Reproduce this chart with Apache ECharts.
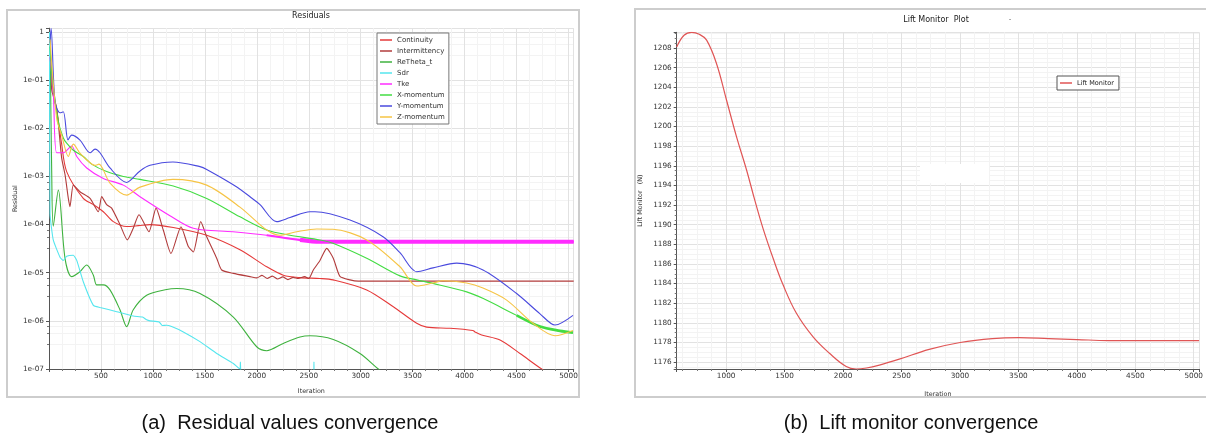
<!DOCTYPE html>
<html><head><meta charset="utf-8">
<script src="https://cdn.jsdelivr.net/npm/echarts@6/dist/echarts.min.js"></script>
<style>html,body{margin:0;padding:0;background:#fff}#c{width:1206px;height:436px}</style>
</head><body><div id="c"></div>
<script>
// ---------------- DATA ----------------
const residualNames = ['Continuity','Intermittency','ReTheta_t','Sdr','Tke','X-momentum','Y-momentum','Z-momentum'];

const itContinuity = [10, 40, 80, 120, 170, 330, 427, 523, 619, 748, 860, 972, 1196, 1518, 1838, 2095, 2255, 2416, 2608, 2736, 3058, 3314, 3539, 3635, 3859, 4080, 4100, 4164, 4341, 4533, 4742, 4918, 5050];
const valContinuity = [0.35, 0.06, 0.02, 5e-3, 1.26e-3, 3.5e-4, 2.6e-4, 1.85e-4, 1.15e-4, 9.1e-5, 9.5e-5, 1.0e-4, 8.7e-5, 6.0e-5, 3.0e-5, 1.33e-5, 8.9e-6, 7.9e-6, 7.6e-6, 7.1e-6, 4.4e-6, 1.96e-6, 8.9e-7, 7.4e-7, 7.0e-7, 6.3e-7, 5.9e-7, 5.1e-7, 4.0e-7, 2.1e-7, 1.0e-7, 5.9e-8, 4e-8];

const itIntermittency = [10, 26, 74, 122, 154, 186, 202, 234, 298, 395, 475, 507, 555, 603, 683, 754, 811, 866, 962, 1030, 1100, 1174, 1270, 1341, 1389, 1460, 1518, 1614, 1662, 1774, 1935, 2000, 2050, 2100, 2150, 2200, 2250, 2300, 2350, 2400, 2460, 2500, 2544, 2608, 2673, 2736, 2800, 2897, 2977, 5050];
const valIntermittency = [0.6, 0.063, 0.026, 2.4e-3, 1.1e-3, 3.5e-4, 2.35e-4, 6.6e-4, 4.8e-4, 3.5e-4, 1.85e-4, 3.8e-4, 2.6e-4, 2.2e-4, 1.0e-4, 4.8e-5, 8.4e-5, 1.6e-4, 7.1e-5, 2.2e-4, 7.7e-5, 2.5e-5, 9.0e-5, 3.5e-5, 2.7e-5, 1.15e-4, 5.6e-5, 2.0e-5, 1.14e-5, 9.7e-6, 8.3e-6, 7.8e-6, 8.8e-6, 7.6e-6, 8.5e-6, 7.4e-6, 8.2e-6, 7.2e-6, 8.0e-6, 7.6e-6, 8.3e-6, 7.6e-6, 1.14e-5, 1.8e-5, 3.2e-5, 2.0e-5, 8.4e-6, 7.1e-6, 6.7e-6, 6.7e-6];

const itReTheta = [10, 26, 41, 90, 154, 218, 298, 363, 427, 459, 523, 587, 683, 748, 811, 940, 1133, 1229, 1453, 1774, 1999, 2095, 2255, 2416, 2512, 2736, 2993, 3169, 3300];
const valReTheta = [0.8, 1.26e-3, 9.3e-5, 5.2e-4, 2.0e-5, 8.3e-6, 1.05e-5, 1.45e-5, 8.9e-6, 5.6e-6, 5.6e-6, 4.4e-6, 1.7e-6, 7.6e-7, 1.7e-6, 3.4e-6, 4.5e-6, 4.7e-6, 3.7e-6, 1.2e-6, 2.9e-7, 2.4e-7, 3.4e-7, 4.6e-7, 4.9e-7, 4.1e-7, 2.1e-7, 1.0e-7, 6e-8];

const itSdr = [5, 10, 41, 106, 138, 170, 234, 267, 330, 427, 491, 652, 811, 900, 940, 972, 1060, 1090, 1133, 1180, 1293, 1453, 1614, 1774, 1838, 1842, 1848, 1900, 2545, 2550, 2555, 2700];
const valSdr = [1.0, 1.7e-4, 4.8e-5, 2.1e-5, 1.8e-5, 2.2e-5, 2.3e-5, 1.8e-5, 6.5e-6, 2.1e-6, 1.9e-6, 1.55e-6, 1.26e-6, 1.2e-6, 1.05e-6, 1.0e-6, 9.5e-7, 8.0e-7, 8.1e-7, 7.6e-7, 5.9e-7, 3.7e-7, 2.1e-7, 1.3e-7, 1.0e-7, 1.4e-7, 9e-8, 8e-8, 5e-8, 1.4e-7, 5e-8, 4e-8];

const itTke = [10, 41, 74, 138, 218, 267, 363, 523, 715, 876, 1160, 1389, 1771, 2095, 2416, 2608, 3000, 3500, 4000, 4500, 5050];
const valTke = [0.3, 0.057, 3.1e-3, 3.1e-3, 4.3e-3, 2.6e-3, 1.5e-3, 9.1e-4, 6.6e-4, 3.8e-4, 1.55e-4, 8.4e-5, 7.1e-5, 6.0e-5, 4.8e-5, 4.4e-5, 4.4e-5, 4.4e-5, 4.4e-5, 4.4e-5, 4.4e-5];

const itXmom = [10, 30, 90, 138, 170, 234, 330, 410, 555, 715, 876, 1196, 1518, 1838, 2095, 2320, 2608, 2733, 3058, 3378, 3539, 3696, 4020, 4180, 4501, 4726, 4918, 5043];
const valXmom = [0.5, 0.12, 0.0137, 6.3e-3, 4.9e-3, 3.5e-3, 2.6e-3, 1.8e-3, 1.26e-3, 1.0e-3, 8.7e-4, 6.3e-4, 3.5e-4, 1.45e-4, 7.7e-5, 6.0e-5, 4.8e-5, 4.1e-5, 2.0e-5, 8.6e-6, 7.1e-6, 6.0e-6, 4.0e-6, 2.9e-6, 1.3e-6, 7.6e-7, 6.2e-7, 5.7e-7];

const itYmom = [10, 20, 58, 106, 138, 183, 218, 298, 395, 443, 491, 587, 746, 876, 972, 1193, 1453, 1518, 1800, 1963, 2031, 2191, 2320, 2512, 2560, 2897, 3215, 3378, 3539, 3696, 3924, 4177, 4501, 4726, 4870, 5043];
const valYmom = [0.6, 1.2, 0.035, 0.021, 0.022, 5.7e-3, 7.2e-3, 5.7e-3, 3.1e-3, 3.7e-3, 3.1e-3, 1.5e-3, 7.5e-4, 1.3e-3, 1.7e-3, 2.0e-3, 1.6e-3, 1.4e-3, 6.2e-4, 3.4e-4, 2.6e-4, 1.15e-4, 1.4e-4, 1.85e-4, 1.85e-4, 1.24e-4, 5.6e-5, 2.6e-5, 1.05e-5, 1.26e-5, 1.58e-5, 1.14e-5, 3.7e-6, 1.4e-6, 8.2e-7, 1.3e-6];

const itZmom = [10, 74, 122, 186, 234, 300, 363, 443, 480, 587, 748, 876, 1193, 1518, 1838, 2095, 2223, 2384, 2577, 2733, 3058, 3378, 3539, 3696, 3792, 4020, 4177, 4405, 4658, 4870, 5043];
const valZmom = [0.7, 0.016, 7.2e-3, 2.6e-3, 4.7e-3, 3.0e-3, 2.2e-3, 1.7e-3, 1.8e-3, 7.3e-4, 4.1e-4, 6.0e-4, 8.7e-4, 6.6e-4, 2.3e-4, 7.7e-5, 6.0e-5, 7.1e-5, 8.1e-5, 8.0e-5, 4.8e-5, 1.33e-5, 5.3e-6, 6.1e-6, 6.8e-6, 6.1e-6, 4.8e-6, 2.7e-6, 8.9e-7, 4.9e-7, 6.3e-7];

const itLift = [577, 640, 705, 770, 833, 918, 1003, 1089, 1174, 1245, 1316, 1401, 1486, 1600, 1742, 1884, 2027, 2112, 2200, 2311, 2481, 2737, 3002, 3277, 3505, 3761, 4002, 4272, 4556, 5046];
const valLift = [1208.1, 1209.3, 1209.6, 1209.4, 1208.8, 1206.4, 1202.7, 1198.95, 1195.6, 1192.5, 1189.6, 1186.6, 1183.9, 1181.0, 1178.6, 1176.9, 1175.55, 1175.3, 1175.4, 1175.7, 1176.3, 1177.3, 1178.0, 1178.4, 1178.5, 1178.4, 1178.3, 1178.2, 1178.2, 1178.2];

const residualTickDecades = [1, 1e-1, 1e-2, 1e-3, 1e-4, 1e-5, 1e-6, 1e-7];

// ---------------- CHART ----------------
const FONT = 'DejaVu Sans';
function pairs(xs, ys) { return xs.map((x, i) => [x, ys[i]]); }
function tailPairs(xs, ys, from) { const o = []; xs.forEach((x, i) => { if (x >= from) o.push([x, ys[i]]); }); return o; }

function logLabel(v) {
  for (const d of residualTickDecades) {
    if (Math.abs(v / d - 1) < 1e-6) {
      const e = Math.round(Math.log10(d));
      return e === 0 ? '1' : '1e-' + String(-e).padStart(2, '0');
    }
  }
  return '';
}

const colors = {
  'Continuity': '#e53a3a',
  'Intermittency': '#b23c3c',
  'ReTheta_t': '#3fb23f',
  'Sdr': '#55e6ee',
  'Tke': '#ff2cff',
  'X-momentum': '#43dc43',
  'Y-momentum': '#4a4ade',
  'Z-momentum': '#f6c445'
};

function lineSeries(name, xs, ys, extra) {
  return Object.assign({
    name: name, type: 'line', xAxisIndex: 0, yAxisIndex: 0,
    data: pairs(xs, ys), showSymbol: false, symbol: 'none', smooth: 0.3,
    color: colors[name], lineStyle: { width: 1.1, color: colors[name] },
    clip: true, z: 2
  }, extra || {});
}

const axisCommon = {
  axisLine: { show: true, lineStyle: { color: '#555', width: 1 } },
  axisTick: { show: true, length: 3, lineStyle: { color: '#555' } },
  minorTick: { show: true, splitNumber: 4, length: 2, lineStyle: { color: '#777' } },
  splitLine: { show: true, lineStyle: { color: '#e2e2e2', width: 1 } },
  minorSplitLine: { show: true, lineStyle: { color: '#f3f3f3', width: 1 } },
  nameTextStyle: { fontFamily: FONT, fontSize: 6.4, color: '#333' }
};
function ax(o) { return Object.assign({}, JSON.parse(JSON.stringify(axisCommon)), o); }

const option = {
  animation: false,
  backgroundColor: '#fff',
  textStyle: { fontFamily: FONT },
  grid: [
    { left: 49, top: 28.2, width: 524.7, height: 340.8 },
    { left: 676.7, top: 32.3, width: 524, height: 336.7 }
  ],
  xAxis: [
    ax({ gridIndex: 0, type: 'value', min: 0, max: 5050, interval: 500,
      name: 'Iteration', nameLocation: 'middle', nameGap: 19,
      axisLabel: { fontFamily: FONT, fontSize: 7.3, color: '#333', margin: 4,
        formatter: v => (v > 0 && v % 500 === 0) ? String(v) : '' } }),
    ax({ gridIndex: 1, type: 'value', min: 577, max: 5046, splitNumber: 9,
      name: 'Iteration', nameLocation: 'middle', nameGap: 22,
      axisLabel: { fontFamily: FONT, fontSize: 7.3, color: '#333', margin: 4,
        formatter: v => (v % 500 === 0) ? String(v) : '' } })
  ],
  yAxis: [
    ax({ gridIndex: 0, type: 'log', logBase: 10, min: 1e-7, max: 1.2,
      name: 'Residual', nameLocation: 'middle', nameGap: 31,
      axisLabel: { fontFamily: FONT, fontSize: 7.3, color: '#333', margin: 5, formatter: logLabel } }),
    ax({ gridIndex: 1, type: 'value', min: 1175.3, max: 1209.6, splitNumber: 17,
      name: 'Lift Monitor   (N)', nameLocation: 'middle', nameGap: 33,
      axisLabel: { fontFamily: FONT, fontSize: 7.3, color: '#333', margin: 5,
        formatter: v => { const r = Math.round(v); return (Math.abs(v - r) < 1e-6 && r % 2 === 0) ? String(r) : ''; } } })
  ],
  legend: [
    { data: residualNames, orient: 'vertical', left: 377, top: 33, icon: 'rect',
      itemWidth: 12, itemHeight: 1.5, itemGap: 3, padding: [3, 4, 3, 3],
      borderColor: '#777', borderWidth: 1, backgroundColor: '#fff', borderRadius: 0,
      textStyle: { fontFamily: FONT, fontSize: 7, color: '#333', lineHeight: 8 } },
    { data: ['Lift Monitor'], orient: 'vertical', left: 1057, top: 76, icon: 'rect',
      itemWidth: 12, itemHeight: 1.5, padding: [3, 5, 3, 3],
      borderColor: '#555', borderWidth: 1, backgroundColor: '#fff',
      textStyle: { fontFamily: FONT, fontSize: 6.5, color: '#222', lineHeight: 8 } }
  ],
  series: [
    lineSeries('Continuity', itContinuity, valContinuity),
    lineSeries('Intermittency', itIntermittency, valIntermittency, { smooth: 0.2 }),
    lineSeries('ReTheta_t', itReTheta, valReTheta),
    lineSeries('Sdr', itSdr, valSdr, { smooth: 0.15 }),
    lineSeries('Tke', itTke, valTke),
    lineSeries('Tke', itTke, valTke, { data: tailPairs(itTke, valTke, 2095), lineStyle: { width: 2.2, color: colors['Tke'] } }),
    lineSeries('Tke', itTke, valTke, { data: tailPairs(itTke, valTke, 2416), lineStyle: { width: 4.2, color: colors['Tke'] } }),
    lineSeries('X-momentum', itXmom, valXmom),
    lineSeries('X-momentum', itXmom, valXmom, { data: tailPairs(itXmom, valXmom, 4501), lineStyle: { width: 2.6, color: colors['X-momentum'] } }),
    lineSeries('Y-momentum', itYmom, valYmom),
    lineSeries('Z-momentum', itZmom, valZmom),
    { name: 'Lift Monitor', type: 'line', xAxisIndex: 1, yAxisIndex: 1, data: pairs(itLift, valLift),
      showSymbol: false, symbol: 'none', smooth: 0.4, color: '#e05555',
      lineStyle: { width: 1.2, color: '#e05555' }, clip: true, z: 2 }
  ],
  graphic: [
    { type: 'rect', shape: { x: 7, y: 10, width: 572, height: 387 }, style: { fill: 'none', stroke: '#cdcdcd', lineWidth: 2 }, z: 0, silent: true },
    { type: 'rect', shape: { x: 635, y: 9, width: 580, height: 388 }, style: { fill: 'none', stroke: '#cdcdcd', lineWidth: 2 }, z: 0, silent: true },
    { type: 'rect', shape: { x: 920, y: 164, width: 69, height: 19 }, style: { fill: '#fff' }, z: 1, silent: true },
    { type: 'text', style: { text: 'Residuals', x: 311, y: 16, align: 'center', verticalAlign: 'middle', textAlign: 'center', textVerticalAlign: 'middle', font: '8px "DejaVu Sans"', fill: '#222' } },
    { type: 'text', style: { text: 'Lift Monitor  Plot', x: 936, y: 20, align: 'center', verticalAlign: 'middle', textAlign: 'center', textVerticalAlign: 'middle', font: '8px "DejaVu Sans"', fill: '#222' } },
    { type: 'text', style: { text: '.', x: 1010, y: 18, align: 'center', verticalAlign: 'middle', textAlign: 'center', textVerticalAlign: 'middle', font: '8px "DejaVu Sans"', fill: '#444' } },
    { type: 'text', style: { text: '(a)  Residual values convergence', x: 290, y: 423, align: 'center', verticalAlign: 'middle', textAlign: 'center', textVerticalAlign: 'middle', font: '20px "Liberation Sans"', fill: '#111' } },
    { type: 'text', style: { text: '(b)  Lift monitor convergence', x: 911, y: 423, align: 'center', verticalAlign: 'middle', textAlign: 'center', textVerticalAlign: 'middle', font: '20px "Liberation Sans"', fill: '#111' } }
  ]
};

const chart = echarts.init(document.getElementById('c'), null, { renderer: 'canvas' });
chart.setOption(option);
</script>
</body></html>
